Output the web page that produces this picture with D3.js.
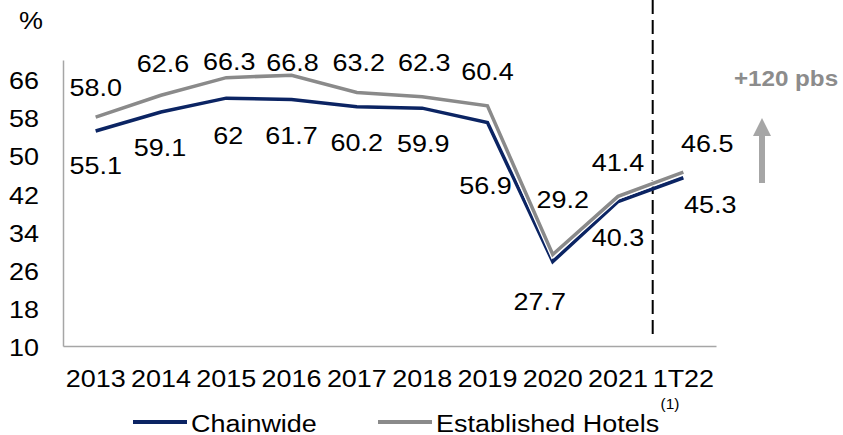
<!DOCTYPE html>
<html>
<head>
<meta charset="utf-8">
<script src="https://cdn.jsdelivr.net/npm/d3@7/dist/d3.min.js"></script>
<style>
  html, body { margin: 0; padding: 0; background: #fff; }
  svg { display: block; font-family: "Liberation Sans", Arial, sans-serif; }
</style>
</head>
<body>
<svg id="chart" width="843" height="435"></svg>
<script>
// Occupancy (%) by year
const years = ["2013", "2014", "2015", "2016", "2017", "2018", "2019", "2020", "2021", "1T22"];
const chainwide = [55.1, 59.1, 62, 61.7, 60.2, 59.9, 56.9, 27.7, 40.3, 45.3];
const established = [58.0, 62.6, 66.3, 66.8, 63.2, 62.3, 60.4, 29.2, 41.4, 46.5];
const yTicks = [10, 18, 26, 34, 42, 50, 58, 66];

// Label placement relative to each point: [dx, dy]
const estLabelOffset = [[0, -30], [2, -32], [3, -16], [1, -13], [2, -30], [2, -34], [0, -34], [10, -55], [0, -34], [24, -29]];
const chainLabelOffset = [[0, 34], [-1, 35], [2, 37], [0, 36], [0, 36], [1, 35], [-2, 63], [-13, 40], [0, 36], [27, 27]];

const NAVY = "#0b2463";
const GREY = "#8a8a8a";
const AXIS = "#a6a6a6";
const FS = 24.5;      // base font size
const SX = 1.1;       // horizontal text stretch

const svg = d3.select("#chart");

const x = d3.scaleBand().domain(years).range([63, 716]);
const y = d3.scaleLinear().domain([10, 70]).range([346, 60]);
const cx = d => x(d) + x.bandwidth() / 2;

// stretched text helper
function stretchText(g, tx, ty, str, opts = {}) {
  return g.append("text")
    .attr("transform", `translate(${tx},${ty}) scale(${SX},1)`)
    .attr("text-anchor", opts.anchor || "middle")
    .attr("dominant-baseline", "central")
    .attr("font-size", opts.size || FS)
    .attr("font-weight", opts.weight || "normal")
    .attr("fill", opts.fill || "#000")
    .text(str);
}

// Y axis
const yAxis = svg.append("g")
  .attr("transform", "translate(63,0)")
  .call(d3.axisLeft(y).tickValues(yTicks).tickSize(0).tickSizeOuter(0).tickFormat(d3.format("d")));
yAxis.select(".domain").attr("stroke", AXIS).attr("stroke-width", 1.5);
yAxis.selectAll(".tick text")
  .attr("x", null).attr("dy", null)
  .attr("dominant-baseline", "central")
  .attr("transform", `translate(-24,1) scale(${SX},1)`)
  .attr("font-size", FS).attr("font-family", null).attr("fill", "#000");

// X axis
const xAxis = svg.append("g")
  .attr("transform", "translate(0,346)")
  .call(d3.axisBottom(x).tickSize(0).tickSizeOuter(0));
xAxis.select(".domain").attr("stroke", AXIS).attr("stroke-width", 1.5);
xAxis.selectAll(".tick text")
  .attr("y", null).attr("dy", null)
  .attr("dominant-baseline", "central")
  .attr("transform", `translate(0,32) scale(${SX},1)`)
  .attr("font-size", FS).attr("font-family", null).attr("fill", "#000");

// Unit label
stretchText(svg, 31, 20, "%", { size: FS });

// Separator before the partial year
const sepX = x("1T22");
svg.append("line")
  .attr("x1", sepX + 2).attr("x2", sepX + 2)
  .attr("y1", 0).attr("y2", 340)
  .attr("stroke", "#000").attr("stroke-width", 2)
  .attr("stroke-dasharray", "14,6");

// Lines
const line = d3.line().x((d, i) => cx(years[i])).y(d => y(d));

svg.append("path").datum(chainwide)
  .attr("d", line).attr("fill", "none")
  .attr("stroke", NAVY).attr("stroke-width", 3.5).attr("stroke-linejoin", "miter");

svg.append("path").datum(established)
  .attr("d", line).attr("fill", "none")
  .attr("stroke", "#fff").attr("stroke-width", 6).attr("stroke-linejoin", "miter");
svg.append("path").datum(established)
  .attr("d", line).attr("fill", "none")
  .attr("stroke", GREY).attr("stroke-width", 3.5).attr("stroke-linejoin", "miter");

// Value labels
const labels = svg.append("g");
established.forEach((v, i) => {
  const [dx, dy] = estLabelOffset[i];
  stretchText(labels, cx(years[i]) + dx, y(v) + dy, v.toFixed(1));
});
chainwide.forEach((v, i) => {
  const [dx, dy] = chainLabelOffset[i];
  stretchText(labels, cx(years[i]) + dx, y(v) + dy, String(v));
});

// Change annotation
const ann = svg.append("g");
stretchText(ann, 786, 78, "+120 pbs", { size: 22, weight: "bold", fill: "#8c8c8c" });
ann.append("path")
  .attr("d", "M762,118 L771,136 L765,136 L765,183 L759,183 L759,136 L753,136 Z")
  .attr("fill", "#a6a6a6");

// Legend
const leg = svg.append("g");
leg.append("line").attr("x1", 133).attr("x2", 187).attr("y1", 422).attr("y2", 422)
  .attr("stroke", NAVY).attr("stroke-width", 4);
stretchText(leg, 191, 423, "Chainwide", { anchor: "start" });
leg.append("line").attr("x1", 378).attr("x2", 432).attr("y1", 422).attr("y2", 422)
  .attr("stroke", GREY).attr("stroke-width", 4);
stretchText(leg, 436, 423, "Established Hotels", { anchor: "start" });
stretchText(leg, 670, 404, "(1)", { size: 14 });
</script>
</body>
</html>
